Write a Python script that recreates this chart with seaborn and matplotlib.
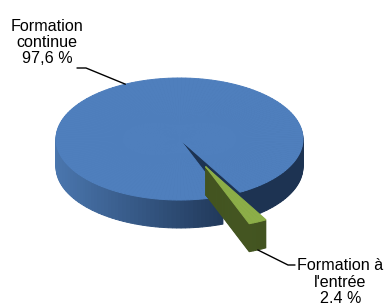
import numpy as np
import matplotlib
matplotlib.use("Agg")
import matplotlib.pyplot as plt
import seaborn as sns
from matplotlib.colors import to_rgb

# ---- data ----
categories = ["Formation continue", "Formation à l'entrée"]
values = [97.6, 2.4]
value_labels = ["97,6 %", "2,4 %"]
label_texts = ["Formation\ncontinue", "Formation à\nl'entrée"]

# ---- styles ----
explode = [0.0, 0.5]
top_colors = ["#4f7fbd", "#8cae48"]
side_left = ["#4a76ae", "#556b2b"]
side_right = ["#1d3352", "#425320"]

sns.set_theme(style="white")
plt.rcParams['font.family'] = ['Liberation Sans', 'DejaVu Sans']

W, H = 387, 303
fig = plt.figure(figsize=(W / 100, H / 100), dpi=100)
ax = fig.add_axes([0, 0, 1, 1])

CX, CY, RX, RY, DEPTH = 179.5, 139.0, 123.5, 61.0, 28  # pixel geometry


def P(px, py):
    return ((px - CX) / RX, (CY - py) / RY)


total = sum(values)
green_mid = -65.0
start = green_mid + 180.0 * values[1] / total  # start of first slice
bounds = [start]
for v in values:
    bounds.append(bounds[-1] + 360.0 * v / total)


def lerp(c1, c2, t):
    a, b = np.array(to_rgb(c1)), np.array(to_rgb(c2))
    return tuple(a + (b - a) * t)


def draw_slice(i, dy, top):
    n = max(3, int(round(values[i] / total * 180)))
    fr = [values[i] / total / n] * n
    mid = np.deg2rad((bounds[i] + bounds[i + 1]) / 2)
    cx = explode[i] * np.cos(mid)
    cy = explode[i] * np.sin(mid) + dy
    if top:
        cols = [top_colors[i]] * n
    else:
        cols = []
        for k in range(n):
            a = np.deg2rad(bounds[i] + (k + 0.5) * (bounds[i + 1] - bounds[i]) / n)
            x = np.cos(a)
            t = np.clip((x + 1) / 1.5, 0, 1)
            cols.append(lerp(side_left[i], side_right[i], t))
    wedges, _ = ax.pie(fr, startangle=bounds[i], normalize=False, colors=cols,
                       center=(cx, cy), radius=1.0, counterclock=True)
    for w in wedges:
        w.set_edgecolor(w.get_facecolor())
        w.set_linewidth(0.7)


for i in range(len(values)):
    for k in range(DEPTH, 0, -1):
        draw_slice(i, -k / RY, False)
    draw_slice(i, 0.0, True)

ax.set_aspect('auto')
ax.set_xlim(P(0, 0)[0], P(W, 0)[0])
ax.set_ylim(P(0, H)[1], P(0, 0)[1])
ax.axis('off')

fs = 11.6
# top label (anchored on the baseline of its last line)
ax.text(*P(47, 63), label_texts[0] + "\n" + value_labels[0], ha='center',
        va='baseline', multialignment='center', fontsize=fs, linespacing=1.09,
        color='black')
a0 = np.deg2rad(116)
p_anchor = (np.cos(a0), np.sin(a0))
xs = [p_anchor[0], P(86, 68)[0], P(77, 68)[0]]
ys = [p_anchor[1], P(86, 68)[1], P(77, 68)[1]]
ax.plot(xs, ys, color='black', lw=1.0)

# bottom label
ax.text(*P(340.5, 303), label_texts[1] + "\n" + value_labels[1], ha='center',
        va='baseline', multialignment='center', fontsize=fs, linespacing=1.12,
        color='black')
gm = np.deg2rad(green_mid)
tip = ((1 + explode[1]) * np.cos(gm), (1 + explode[1]) * np.sin(gm) - DEPTH / RY)
xs = [tip[0], P(288, 265)[0], P(295, 265)[0]]
ys = [tip[1], P(288, 265)[1], P(295, 265)[1]]
ax.plot(xs, ys, color='black', lw=1.0)

fig.savefig("out.png", dpi=100)
